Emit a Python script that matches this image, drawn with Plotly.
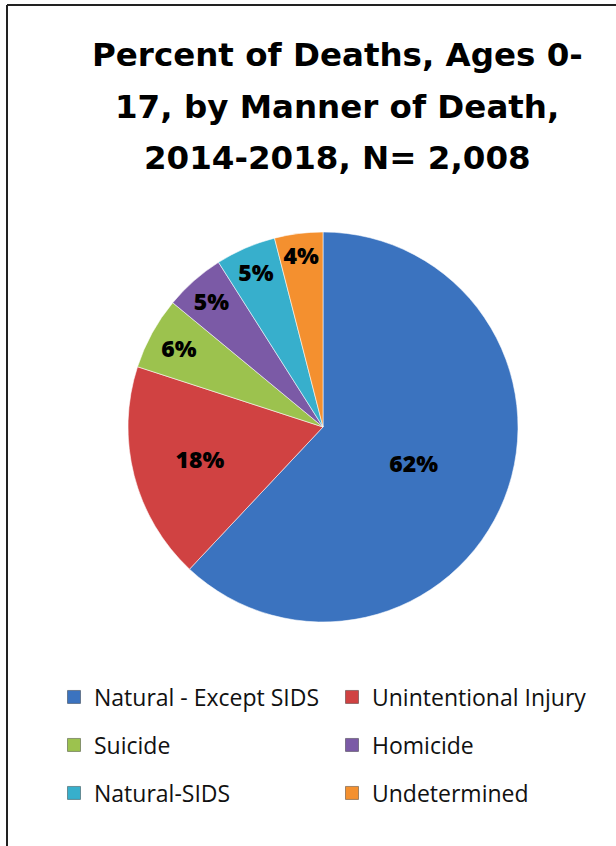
import plotly.graph_objects as go

# ---- data ----
categories = ["Natural - Except SIDS", "Unintentional Injury", "Suicide",
              "Homicide", "Natural-SIDS", "Undetermined"]
percent_values = [62, 18, 6, 5, 5, 4]
slice_colors = ["#3B73BF", "#D04242", "#9CC24E", "#7B5AA6", "#37AFCC", "#F4902F"]
title_lines = ["Percent of Deaths, Ages 0-", "17, by Manner of Death,", "2014-2018, N= 2,008"]

W, H = 616, 846

fig = go.Figure()

fig.add_trace(go.Pie(
    labels=categories,
    values=percent_values,
    sort=False,
    direction="clockwise",
    rotation=0,
    marker=dict(colors=slice_colors, line=dict(color="rgba(255,255,255,0.55)", width=1)),
    texttemplate="%{percent:.0%}",
    textposition="inside",
    insidetextorientation="horizontal",
    textfont=dict(family="Open Sans", size=23, color="#000000", weight=800),
    domain=dict(x=[128 / W, 518 / W], y=[(H - 622) / H, (H - 232) / H]),
    showlegend=False,
    hoverinfo="label+percent",
))

# legend entries (3 rows x 2 columns) built from the same category/colour lists
legend_rows = [("legend", 697), ("legend2", 745), ("legend3", 793)]
for i, (name, color) in enumerate(zip(categories, slice_colors)):
    lg = legend_rows[i // 2][0]
    fig.add_trace(go.Scatter(
        x=[None], y=[None], mode="markers", name=name,
        marker=dict(symbol="square", size=13, color=color,
                    line=dict(color="rgba(0,0,0,0.35)", width=1)),
        legend=lg, showlegend=True, hoverinfo="skip",
    ))

legend_common = dict(
    orientation="h",
    font=dict(family="Open Sans", size=23, color="#111111"),
    entrywidth=233, entrywidthmode="pixels",
    xanchor="left", yanchor="middle",
    bgcolor="rgba(0,0,0,0)", itemclick=False, itemdoubleclick=False,
)
layout_legends = {}
for lg, ypix in legend_rows:
    layout_legends[lg] = dict(legend_common, x=54 / W, y=1 - ypix / H)

annotations = []
for txt, ypix in zip(title_lines, [55, 107, 158]):
    annotations.append(dict(
        text=txt, x=337 / W, y=1 - ypix / H, xref="paper", yref="paper",
        xanchor="center", yanchor="middle", showarrow=False,
        font=dict(family="DejaVu Sans", size=32.5, color="#000000", weight="bold"),
    ))

shapes = [
    dict(type="line", xref="paper", yref="paper", x0=7 / W, x1=1, y0=1 - 5 / H, y1=1 - 5 / H,
         line=dict(color="#222222", width=2)),
    dict(type="line", xref="paper", yref="paper", x0=7 / W, x1=7 / W, y0=1 - 5 / H, y1=0,
         line=dict(color="#222222", width=2)),
]

fig.update_layout(
    width=W, height=H,
    margin=dict(l=0, r=0, t=0, b=0),
    paper_bgcolor="#ffffff", plot_bgcolor="#ffffff",
    xaxis=dict(visible=False), yaxis=dict(visible=False),
    annotations=annotations, shapes=shapes,
    uniformtext=dict(minsize=23, mode="show"),
    **layout_legends,
)

fig.write_html("out.html",
               config={"displayModeBar": False},
               post_script="document.body.style.margin='0';document.body.style.overflow='hidden';")
